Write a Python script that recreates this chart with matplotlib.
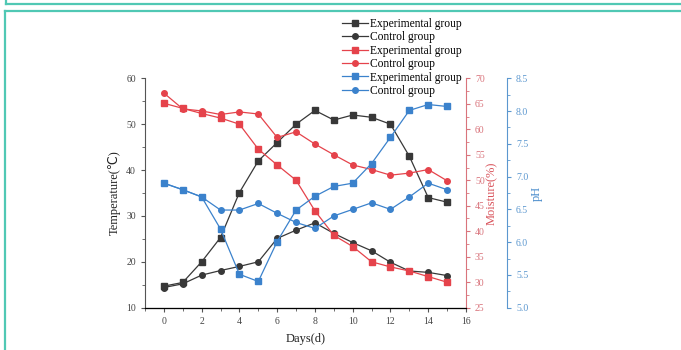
import numpy as np
import matplotlib.pyplot as plt
from matplotlib.lines import Line2D
from matplotlib.ticker import MultipleLocator

plt.rcParams['font.family'] = ['Liberation Serif', 'DejaVu Serif']

days = np.arange(0, 16)

# temperature (left axis)
temp_exp = [14.7, 15.5, 20.0, 25.3, 35.1, 42.0, 46.0, 50.0, 53.0, 50.9, 52.0, 51.5, 50.0, 43.0, 34.0, 33.0]
temp_ctl = [14.4, 15.2, 17.1, 18.1, 19.0, 20.0, 25.1, 26.9, 28.5, 26.2, 24.2, 22.4, 19.9, 18.0, 17.7, 17.0]

# moisture (first right axis)
moist_exp = [65.1, 64.1, 63.1, 62.2, 61.0, 56.1, 53.0, 50.0, 44.0, 39.2, 37.0, 34.0, 33.0, 32.2, 31.1, 30.0]
moist_ctl = [67.1, 64.0, 63.6, 62.9, 63.4, 63.0, 58.4, 59.5, 57.1, 55.0, 53.0, 52.1, 51.0, 51.4, 52.1, 49.9]

# pH (second right axis)
ph_exp = [6.90, 6.80, 6.69, 6.20, 5.51, 5.40, 6.01, 6.49, 6.70, 6.85, 6.90, 7.20, 7.60, 8.01, 8.10, 8.07]
ph_ctl = [6.90, 6.80, 6.69, 6.49, 6.49, 6.59, 6.44, 6.30, 6.21, 6.40, 6.50, 6.60, 6.50, 6.69, 6.90, 6.80]

c_black = "#383838"
c_red = "#e5434b"
c_blue = "#3b82cc"

fig = plt.figure(figsize=(6.81, 3.5), dpi=100)
ax = fig.add_axes([145/681, 1-307.7/350, (466-145)/681, (307.7-78.3)/350])
ax2 = ax.twinx()
ax3 = ax.twinx()
ax3.spines['right'].set_position(('outward', 41*0.72))  # 41 px

kw = dict(lw=0.9, ms=4)
l1, = ax.plot(days, temp_exp, marker='s', color=c_black, label='Experimental group', **kw)
l2, = ax.plot(days, temp_ctl, marker='o', color=c_black, label='Control group', **kw)
l3, = ax2.plot(days, moist_exp, marker='s', color=c_red, label='Experimental group', **kw)
l4, = ax2.plot(days, moist_ctl, marker='o', color=c_red, label='Control group', **kw)
l5, = ax3.plot(days, ph_exp, marker='s', color=c_blue, label='Experimental group', **kw)
l6, = ax3.plot(days, ph_ctl, marker='o', color=c_blue, label='Control group', **kw)

ax.set_xlim(-1, 16)
ax.set_ylim(10, 60)
ax2.set_ylim(25, 70)
ax3.set_ylim(5.0, 8.5)

ax.xaxis.set_major_locator(MultipleLocator(2))
ax.xaxis.set_minor_locator(MultipleLocator(1))
ax.yaxis.set_major_locator(MultipleLocator(10))
ax.yaxis.set_minor_locator(MultipleLocator(5))
ax2.yaxis.set_major_locator(MultipleLocator(5))
ax2.yaxis.set_minor_locator(MultipleLocator(2.5))
ax3.yaxis.set_major_locator(MultipleLocator(0.5))
ax3.yaxis.set_minor_locator(MultipleLocator(0.25))
ax3.yaxis.set_major_formatter(plt.FormatStrFormatter('%.1f'))

for a in (ax, ax2, ax3):
    a.spines['top'].set_visible(False)
for s in ('top', 'right'):
    ax.spines[s].set_visible(False)
ax2.spines['left'].set_visible(False)
ax3.spines['left'].set_visible(False)
ax.spines['left'].set_color('#555555')
ax.spines['bottom'].set_color('#555555')
ax2.spines['right'].set_color('#d9747c')
ax3.spines['right'].set_color('#5b97cf')

ax.tick_params(axis='both', which='both', direction='out', labelsize=7, colors='#555555')
ax.tick_params(which='major', length=3, width=0.8)
ax.tick_params(which='minor', length=2, width=0.6)
ax2.tick_params(axis='y', which='both', direction='out', labelsize=7, colors='#d9747c')
ax2.tick_params(which='major', length=3)
ax2.tick_params(which='minor', length=2)
ax3.tick_params(axis='y', which='both', direction='out', labelsize=7, colors='#5b97cf')
ax3.tick_params(which='major', length=3)
ax3.tick_params(which='minor', length=2)
for t in ax.get_xticklabels() + ax.get_yticklabels():
    t.set_color('#444444')

ax.set_xlabel('Days(d)', fontsize=9, color='#222222', labelpad=5)
ax.set_ylabel('Temperature(\u2103)', fontsize=9, color='#222222', labelpad=4,
              family=['Liberation Serif', 'DejaVu Sans'])
ax2.set_ylabel('Moisture(%)', fontsize=9, color='#d9545c', labelpad=1)
ax3.set_ylabel('pH', fontsize=9, color='#4a8ccc', labelpad=2)

fig.legend(handles=[l1, l2, l3, l4, l5, l6], loc='upper left',
           bbox_to_anchor=(342/681, 1-18/350), frameon=False, fontsize=8.3,
           handlelength=2.25, handletextpad=0.2, labelspacing=0.12,
           borderpad=0, borderaxespad=0)

# teal page frame
teal = "#50c8b4"
fig.add_artist(Line2D([6/681, 1], [1-4/350, 1-4/350], transform=fig.transFigure, color=teal, lw=1.6))
fig.add_artist(Line2D([6/681, 6/681], [1, 1-4/350], transform=fig.transFigure, color=teal, lw=1.6))
fig.add_artist(Line2D([4.5/681, 1], [1-11/350, 1-11/350], transform=fig.transFigure, color=teal, lw=1.6))
fig.add_artist(Line2D([4.5/681, 4.5/681], [1-11/350, 0], transform=fig.transFigure, color=teal, lw=1.6))

fig.savefig('out.png', dpi=100)
